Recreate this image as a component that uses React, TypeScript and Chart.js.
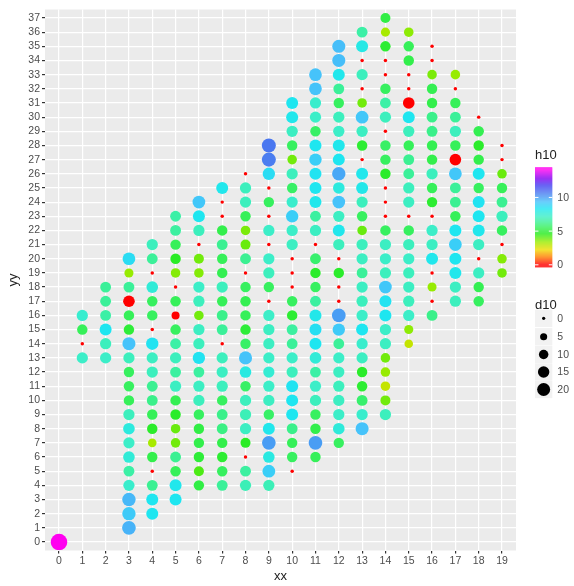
import React, { useEffect, useRef } from "react";
import { Chart, registerables } from "chart.js";
Chart.register(...registerables);

const xCategories: number[] = [0, 1, 2, 3, 4, 5, 6, 7, 8, 9, 10, 11, 12, 13, 14, 15, 16, 17, 18, 19];
const yTickValues: number[] = [0, 1, 2, 3, 4, 5, 6, 7, 8, 9, 10, 11, 12, 13, 14, 15, 16, 17, 18, 19, 20, 21, 22, 23, 24, 25, 26, 27, 28, 29, 30, 31, 32, 33, 34, 35, 36, 37];

// first yy value of each xx column (values continue upward by 1)
const colStartY: number[] = [0, 13, 13, 1, 2, 3, 4, 4, 4, 4, 5, 6, 7, 8, 9, 14, 16, 17, 17, 19];

const h10ByCol: number[][] = [
  [14.1],
  [7.2, 0, 5.5, 7.4],
  [7.2, 7.0, 8.3, 6.6, 6.4, 6.4],
  [9.6, 9.1, 9.5, 7.3, 6.6, 7.6, 7.2, 7.8, 7.0, 5.5, 5.6, 5.6, 7.0, 9.3, 5.0, 5.5, 0, 6.4, 3.4, 8.6],
  [8.3, 8.3, 6.3, 0, 5.3, 3.2, 4.8, 5.5, 6.2, 6.3, 7.0, 7.1, 8.4, 0, 5.6, 5.6, 7.6, 0, 6.4, 7.0],
  [8.3, 8.2, 5.5, 6.3, 3.8, 3.9, 4.8, 5.4, 7.1, 6.5, 7.0, 6.6, 5.6, 0, 5.5, 0, 3.6, 4.7, 5.5, 6.5, 6.6],
  [5.2, 4.2, 5.0, 5.3, 5.2, 5.6, 7.0, 7.1, 6.5, 8.4, 7.0, 7.1, 3.8, 7.0, 7.2, 3.6, 3.8, 0, 7.0, 8.3, 9.2],
  [6.4, 5.6, 4.9, 5.3, 6.1, 6.2, 5.6, 7.0, 7.1, 7.0, 0, 6.4, 6.2, 5.5, 7.0, 5.4, 5.5, 6.3, 5.3, 0, 0, 8.2],
  [6.9, 6.5, 0, 4.7, 7.1, 6.9, 7.0, 5.7, 7.9, 9.3, 5.7, 5.0, 5.5, 5.4, 5.6, 0, 6.3, 3.9, 3.7, 5.5, 7.0, 7.0, 0],
  [6.9, 9.0, 7.9, 10.0, 8.2, 5.7, 7.1, 7.2, 7.5, 7.2, 7.1, 7.1, 7.2, 0, 5.6, 7.0, 7.2, 0, 7.2, 0, 5.6, 0, 8.6, 10.6, 10.7],
  [0, 5.6, 5.5, 6.2, 8.3, 8.3, 8.4, 7.0, 7.2, 6.4, 6.5, 4.9, 5.6, 0, 0, 0, 7.1, 7.2, 9.0, 7.3, 5.7, 7.0, 3.8, 5.6, 7.1, 8.2, 8.3],
  [5.5, 10.0, 5.3, 5.6, 7.0, 7.2, 6.6, 7.6, 8.3, 8.5, 8.1, 6.5, 5.6, 4.8, 5.8, 0, 7.1, 6.5, 8.2, 8.3, 8.4, 9.0, 8.3, 5.7, 7.2, 7.3, 9.3, 9.3],
  [5.6, 7.7, 7.2, 7.1, 7.0, 7.1, 7.2, 6.4, 9.1, 10.0, 0, 0, 4.8, 0, 7.0, 8.2, 7.1, 9.3, 7.8, 9.8, 8.3, 8.2, 7.2, 7.0, 5.6, 6.4, 8.2, 9.4, 9.4],
  [9.3, 7.3, 5.8, 4.9, 4.8, 7.1, 7.3, 8.3, 7.2, 7.0, 7.1, 6.4, 7.1, 7.0, 3.9, 5.6, 7.0, 8.1, 8.2, 0, 4.9, 7.1, 9.2, 3.8, 0, 7.0, 0, 8.0, 6.6],
  [7.0, 3.8, 2.8, 3.4, 3.8, 7.1, 7.2, 8.3, 8.4, 9.2, 7.0, 7.2, 7.1, 5.6, 0, 0, 0, 4.8, 5.6, 5.7, 0, 7.0, 6.6, 5.6, 0, 0, 4.9, 3.2, 5.2],
  [2.8, 3.5, 7.2, 7.0, 7.1, 7.0, 7.2, 7.0, 5.6, 0, 7.1, 7.0, 6.4, 6.3, 5.5, 7.0, 8.3, 0, 0, 0, 5.3, 5.5, 3.5],
  [6.2, 0, 3.4, 0, 8.2, 7.1, 7.2, 0, 4.9, 5.5, 7.0, 5.3, 5.4, 6.2, 6.2, 5.3, 5.4, 3.7, 0, 0],
  [7.0, 7.1, 8.2, 8.3, 9.0, 8.3, 5.5, 6.3, 6.4, 9.2, 0, 5.5, 7.0, 6.4, 5.5, 0, 3.4],
  [5.6, 5.4, 7.1, 0, 7.1, 8.2, 8.3, 8.4, 5.6, 8.3, 5.3, 4.8, 5.4, 0],
  [3.8, 3.6, 0, 5.6, 7.0, 6.3, 5.5, 3.9, 0, 0],
];

const d10ByCol: number[][] = [
  [30],
  [13, 0, 11, 13],
  [13, 13, 15, 12, 12, 12],
  [20, 19, 19, 13, 12, 14, 13, 14, 13, 11, 11, 11, 13, 18, 11, 11, 14, 12, 8, 17],
  [15, 15, 12, 0, 11, 7, 11, 11, 12, 12, 13, 13, 16, 0, 11, 11, 14, 0, 12, 13],
  [15, 15, 11, 12, 9, 9, 11, 11, 13, 12, 13, 12, 11, 6, 11, 0, 9, 11, 11, 12, 12],
  [11, 10, 11, 11, 11, 11, 13, 13, 12, 16, 13, 13, 9, 13, 13, 9, 10, 0, 13, 15, 17],
  [12, 11, 11, 11, 12, 12, 11, 13, 13, 13, 0, 12, 12, 11, 13, 11, 11, 12, 11, 0, 0, 15],
  [13, 12, 0, 10, 13, 13, 13, 11, 14, 18, 11, 11, 11, 11, 11, 0, 12, 10, 9, 11, 13, 13, 0],
  [13, 17, 14, 20, 15, 11, 13, 13, 13, 13, 13, 13, 13, 0, 11, 13, 13, 0, 13, 0, 11, 0, 16, 21, 21],
  [0, 11, 11, 12, 15, 15, 15, 13, 13, 12, 12, 11, 11, 0, 0, 0, 13, 13, 16, 13, 11, 13, 9, 11, 13, 15, 15],
  [11, 20, 11, 11, 13, 13, 12, 14, 15, 15, 15, 12, 11, 11, 12, 0, 13, 12, 15, 15, 15, 16, 15, 11, 13, 13, 17, 17],
  [11, 14, 13, 13, 13, 13, 13, 12, 16, 20, 0, 0, 11, 0, 13, 15, 13, 17, 14, 19, 15, 15, 13, 13, 11, 12, 15, 18, 18],
  [18, 13, 12, 11, 11, 13, 13, 15, 13, 13, 13, 12, 13, 13, 9, 11, 13, 15, 15, 0, 11, 13, 17, 9, 0, 13, 0, 15, 12],
  [13, 10, 9, 9, 9, 13, 13, 15, 15, 17, 13, 13, 13, 11, 0, 0, 0, 11, 11, 11, 0, 13, 12, 11, 0, 0, 11, 8, 10],
  [7, 8, 13, 13, 13, 13, 13, 13, 11, 0, 13, 13, 12, 12, 11, 13, 15, 14, 0, 0, 11, 11, 9],
  [12, 0, 8, 0, 15, 13, 13, 0, 11, 11, 13, 11, 11, 12, 12, 11, 11, 9, 0, 0],
  [13, 13, 15, 15, 17, 15, 11, 12, 12, 17, 14, 11, 13, 12, 11, 0, 9],
  [11, 11, 13, 0, 13, 15, 15, 15, 11, 15, 11, 11, 11, 0],
  [9, 9, 0, 11, 13, 12, 11, 9, 0, 0],
];

const h10LegendBreaks: number[] = [0, 5, 10];
const d10LegendBreaks: number[] = [0, 5, 10, 15, 20];
const h10Max = 14.1;

const FONT = '"Liberation Sans", Arial, Helvetica, sans-serif';

const colorStops: [number, number[]][] = [
  [0, [255, 0, 0]],
  [1.1, [255, 120, 0]],
  [2.2, [240, 220, 0]],
  [3.3, [160, 235, 0]],
  [4.6, [40, 235, 30]],
  [5.6, [55, 240, 95]],
  [6.5, [60, 240, 160]],
  [7.2, [60, 238, 200]],
  [8.3, [30, 230, 240]],
  [9.3, [70, 195, 250]],
  [10.5, [75, 130, 240]],
  [11.8, [70, 60, 240]],
  [12.8, [130, 0, 240]],
  [14.1, [255, 0, 240]],
];

function colorFor(h: number): string {
  if (h <= colorStops[0][0]) return `rgb(${colorStops[0][1].join(",")})`;
  for (let i = 1; i < colorStops.length; i++) {
    const [h1, c1] = colorStops[i];
    const [h0, c0] = colorStops[i - 1];
    if (h <= h1) {
      const t = (h - h0) / (h1 - h0);
      const c = c0.map((v, k) => Math.round(v + (c1[k] - v) * t));
      return `rgb(${c.join(",")})`;
    }
  }
  return `rgb(${colorStops[colorStops.length - 1][1].join(",")})`;
}

function radiusFor(d: number): number {
  return Math.sqrt(3 + 2.2 * d);
}

export default function App() {
  const ref = useRef<HTMLCanvasElement | null>(null);

  useEffect(() => {
    if (!ref.current) return;
    const pts: { x: number; y: number; r: number }[] = [];
    const colors: string[] = [];
    xCategories.forEach((xv, ci) => {
      const hs = h10ByCol[ci];
      const ds = d10ByCol[ci];
      hs.forEach((h, i) => {
        pts.push({ x: xv, y: colStartY[ci] + i, r: radiusFor(ds[i]) });
        colors.push(colorFor(h));
      });
    });

    const decor = {
      id: "decor",
      beforeDraw(chart: any) {
        const { ctx, chartArea: a } = chart;
        ctx.save();
        ctx.fillStyle = "#ffffff";
        ctx.fillRect(0, 0, chart.width, chart.height);
        ctx.fillStyle = "#EBEBEB";
        ctx.fillRect(a.left, a.top, a.right - a.left, a.bottom - a.top);
        ctx.restore();
      },
      afterDraw(chart: any) {
        const { ctx, chartArea: a } = chart;
        ctx.save();
        // axis titles
        ctx.fillStyle = "#222";
        ctx.font = `13px ${FONT}`;
        ctx.textAlign = "center";
        ctx.textBaseline = "middle";
        ctx.fillText("xx", (a.left + a.right) / 2, 576);
        ctx.save();
        ctx.translate(13, (a.top + a.bottom) / 2);
        ctx.rotate(-Math.PI / 2);
        ctx.fillText("yy", 0, 0);
        ctx.restore();

        // colour bar legend
        const bx = 535, bw = 17.3, bTop = 167.3, bBot = 267.3, half = 2.5;
        ctx.textAlign = "left";
        ctx.textBaseline = "alphabetic";
        ctx.fillStyle = "#222";
        ctx.font = `13px ${FONT}`;
        ctx.fillText("h10", bx, 159);
        const y0 = bBot - half, y1 = bTop + half;
        for (let py = bTop; py < bBot; py += 1) {
          let v = ((y0 - (py + 0.5)) / (y0 - y1)) * h10Max;
          v = Math.max(0, Math.min(h10Max, v));
          ctx.fillStyle = colorFor(v);
          ctx.fillRect(bx, py, bw, 1.05);
        }
        ctx.strokeStyle = "#ffffff";
        ctx.lineWidth = 1;
        ctx.font = `10.5px ${FONT}`;
        ctx.textBaseline = "middle";
        h10LegendBreaks.forEach((b) => {
          const py = y0 - (b / h10Max) * (y0 - y1);
          ctx.beginPath();
          ctx.moveTo(bx, py);
          ctx.lineTo(bx + bw / 5, py);
          ctx.moveTo(bx + bw, py);
          ctx.lineTo(bx + bw - bw / 5, py);
          ctx.stroke();
          ctx.fillStyle = "#4D4D4D";
          ctx.fillText(String(b), bx + bw + 5, py + 0.5);
        });

        // size legend
        ctx.fillStyle = "#222";
        ctx.font = `13px ${FONT}`;
        ctx.textBaseline = "alphabetic";
        ctx.fillText("d10", bx, 309);
        const keyCenters = [318.3, 336.7, 354.5, 372, 389.5];
        d10LegendBreaks.forEach((b, i) => {
          const cy = keyCenters[i];
          ctx.fillStyle = "#F2F2F2";
          ctx.fillRect(bx, cy - 8.6, bw, 17.3);
          ctx.fillStyle = "#000";
          ctx.beginPath();
          ctx.arc(bx + bw / 2, cy, radiusFor(b) * 0.95, 0, Math.PI * 2);
          ctx.fill();
          ctx.fillStyle = "#4D4D4D";
          ctx.font = `10.5px ${FONT}`;
          ctx.textBaseline = "middle";
          ctx.fillText(String(b), bx + bw + 5, cy + 0.5);
        });
        ctx.restore();
      },
    };

    const chart = new Chart(ref.current, {
      type: "bubble",
      data: {
        datasets: [
          {
            data: pts,
            backgroundColor: colors,
            borderWidth: 0,
            hoverBorderWidth: 0,
          } as any,
        ],
      },
      options: {
        responsive: false,
        animation: false,
        events: [],
        layout: { padding: { top: 9.5, right: 58, left: 0, bottom: 0 } },
        plugins: { legend: { display: false }, tooltip: { enabled: false } },
        scales: {
          x: {
            type: "linear",
            min: -0.6,
            max: 19.6,
            afterBuildTicks: (s: any) => {
              s.ticks = xCategories.map((v) => ({ value: v }));
            },
            afterFit: (s: any) => {
              s.height = 35.5;
            },
            grid: { color: "#ffffff", lineWidth: 1.2, tickColor: "#333333", tickLength: 3, drawTicks: true },
            border: { display: false },
            ticks: { color: "#4D4D4D", font: { size: 10.5, family: FONT }, padding: 1, maxRotation: 0, autoSkip: false },
          },
          y: {
            type: "linear",
            min: -0.6,
            max: 37.6,
            afterBuildTicks: (s: any) => {
              s.ticks = yTickValues.map((v) => ({ value: v }));
            },
            afterFit: (s: any) => {
              s.width = 45;
            },
            grid: { color: "#ffffff", lineWidth: 1.2, tickColor: "#333333", tickLength: 3, drawTicks: true },
            border: { display: false },
            ticks: { color: "#4D4D4D", font: { size: 10.5, family: FONT }, padding: 2, autoSkip: false },
          },
        },
      } as any,
      plugins: [decor],
    });
    return () => chart.destroy();
  }, []);

  return (
    <div style={{ position: "absolute", left: 0, top: 0, width: 574, height: 586 }}>
      <canvas ref={ref} width={574} height={586} style={{ display: "block" }} />
    </div>
  );
}
